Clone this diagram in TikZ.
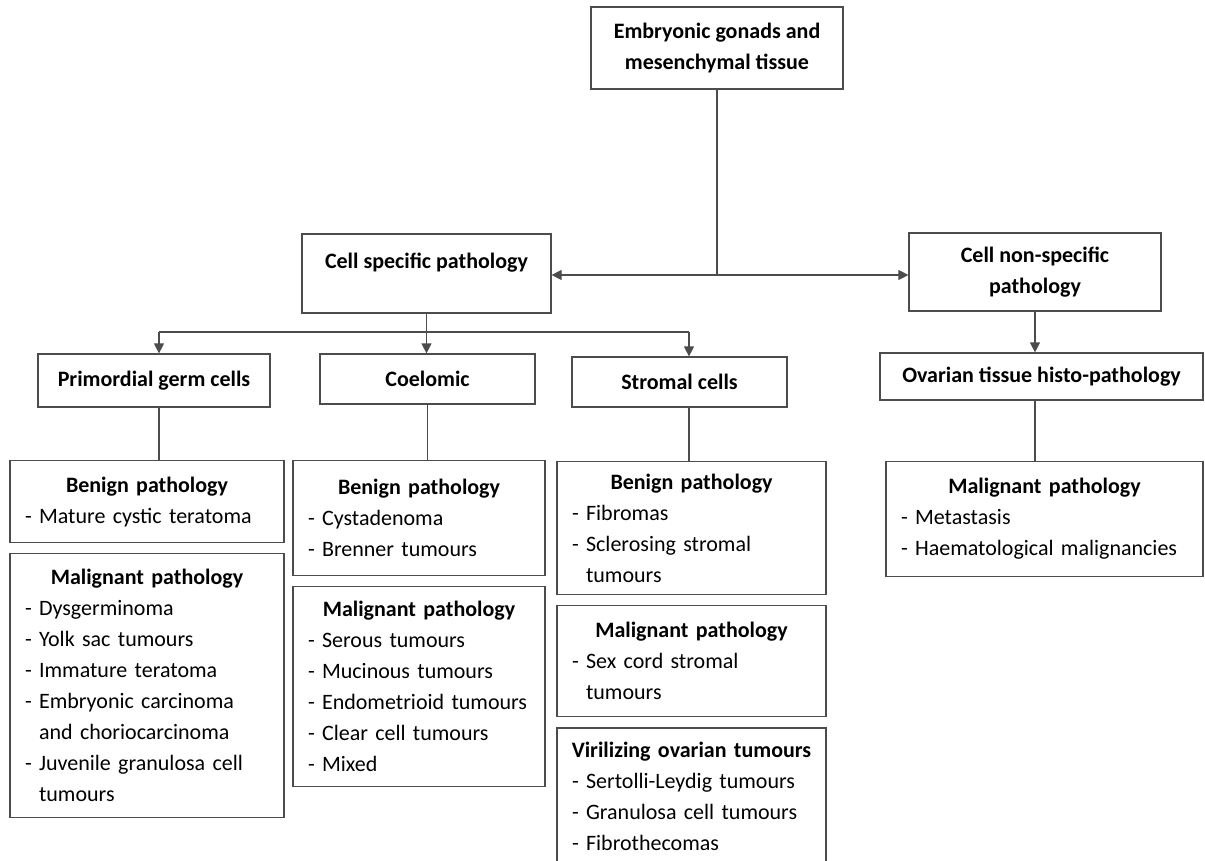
\documentclass[tikz,border=0pt]{standalone}
\usepackage{fontspec}
\setmainfont{Carlito}
\usetikzlibrary{arrows.meta, positioning}
\setlength{\parindent}{0pt}

\newcommand{\boxhead}[1]{\makebox[\linewidth]{\bfseries #1}\\}
\newcommand{\cont}{\hphantom{- }}

\begin{document}
\begin{tikzpicture}[
    x=1pt, y=-1pt,
    font=\fontsize{22}{31}\selectfont,
    node distance=10pt,
    box/.style={
      draw=black!70,
      line width=1.2pt,
      fill=white,
      align=center,
      inner sep=0pt,
      font=\fontsize{22}{31}\selectfont\bfseries
    },
    listbox/.style={
      draw=black!70,
      line width=1.2pt,
      fill=white,
      align=left,
      inner xsep=15pt,
      inner ysep=0pt
    },
    arrow/.style={
      -{Triangle[length=10pt, width=10pt]},
      line width=1.2pt,
      draw=black!70
    },
    link/.style={
      line width=1.2pt,
      draw=black!70
    }
  ]

    \useasboundingbox (0,0) rectangle (1205,860);

    % Top levels
    \node[box, minimum width=252pt, minimum height=82pt] (gonads) at (717,48)
      {Embryonic gonads and\\mesenchymal tissue};
    \node[box, minimum width=249pt, minimum height=79pt,
          text height=16pt, text depth=27pt] (cellspec) at (426.5,273.5)
      {Cell specific pathology};
    \node[box, minimum width=252pt, minimum height=78pt] (nonspec) at (1035,272)
      {Cell non-specific\\pathology};

    % Cell groups
    \node[box, minimum width=232pt, minimum height=53pt] (primordial) at (154,380.5)
      {Primordial germ cells};
    \node[box, minimum width=215pt, minimum height=50pt] (coelomic) at (427.5,379)
      {Coelomic};
    \node[box, minimum width=215pt, minimum height=50pt] (stromal) at (679.5,382)
      {Stromal cells};
    \node[box, minimum width=323pt, minimum height=47pt] (ovarian) at (1041.5,376.5)
      {Ovarian tissue histo-pathology};

    % Primordial germ cells
    \node[listbox, anchor=north, text width=244pt, minimum height=82pt] (benignA) at (147,460)
      {\boxhead{Benign pathology}
       - Mature cystic teratoma};
    \node[listbox, below=of benignA, text width=244pt, minimum height=264pt] (malignA)
      {\boxhead{Malignant pathology}
       - Dysgerminoma\\
       - Yolk sac tumours\\
       - Immature teratoma\\
       - Embryonic carcinoma\\
       \cont and choriocarcinoma\\
       - Juvenile granulosa cell\\
       \cont tumours};

    % Coelomic
    \node[listbox, anchor=north, text width=222pt, minimum height=115pt] (benignB) at (419,460)
      {\boxhead{Benign pathology}
       - Cystadenoma\\
       - Brenner tumours};
    \node[listbox, below=of benignB, text width=222pt, minimum height=200pt] (malignB)
      {\boxhead{Malignant pathology}
       - Serous tumours\\
       - Mucinous tumours\\
       - Endometrioid tumours\\
       - Clear cell tumours\\
       - Mixed};

    % Stromal cells
    \node[listbox, anchor=north, text width=239pt, minimum height=133pt] (benignC) at (691.5,461)
      {\boxhead{Benign pathology}
       - Fibromas\\
       - Sclerosing stromal\\
       \cont tumours};
    \node[listbox, below=of benignC, text width=239pt, minimum height=111pt] (malignC)
      {\boxhead{Malignant pathology}
       - Sex cord stromal\\
       \cont tumours};
    \node[listbox, below=of malignC, text width=239pt, minimum height=137pt] (virilC)
      {\boxhead{Virilizing ovarian tumours}
       - Sertolli-Leydig tumours\\
       - Granulosa cell tumours\\
       - Fibrothecomas};

    % Non-specific
    \node[listbox, anchor=north, text width=287pt, minimum height=115pt] (malignD) at (1044.5,461)
      {\boxhead{Malignant pathology}
       - Metastasis\\
       - Haematological malignancies};

    % Connectors
    \coordinate (hub) at (717,275);
    \coordinate (branchL) at (159,332);
    \coordinate (branchR) at (689,332);

    \draw[link] (gonads) -- (hub);
    \draw[arrow] (hub) -- (hub -| cellspec.east);
    \draw[arrow] (hub) -- (hub -| nonspec.west);

    \draw[arrow] (cellspec.south) -- (cellspec.south |- coelomic.north);
    \draw[link] (branchL) -- (branchR);
    \draw[arrow] (branchL) -- (branchL |- primordial.north);
    \draw[arrow] (branchR) -- (branchR |- stromal.north);
    \draw[arrow] (nonspec) -- (nonspec |- ovarian.north);

    \draw[link] (branchL |- primordial.south) -- (branchL |- benignA.north);
    \draw[link] (coelomic) -- (coelomic |- benignB.north);
    \draw[link] (branchR |- stromal.south) -- (branchR |- benignC.north);
    \draw[link] (nonspec |- ovarian.south) -- (nonspec |- malignD.north);

  \end{tikzpicture}
\end{document}
